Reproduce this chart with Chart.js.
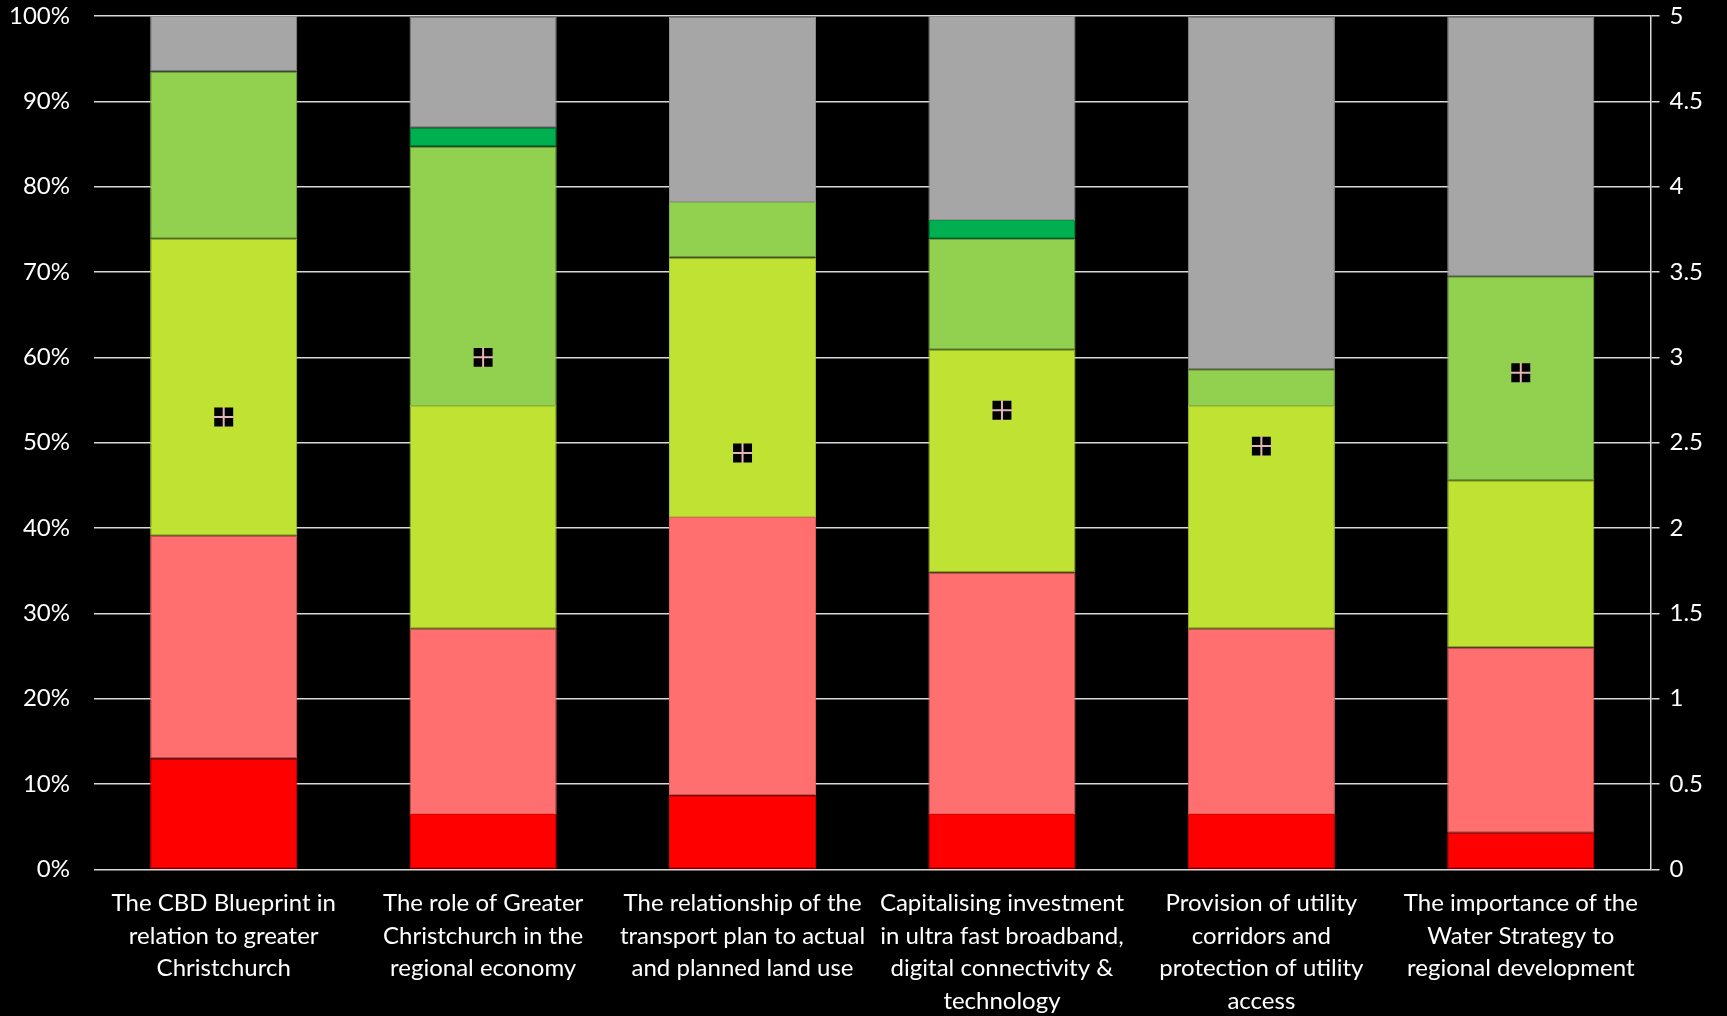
<!DOCTYPE html>
<html>
<head>
<meta charset="utf-8">
<script src="https://cdn.jsdelivr.net/npm/chart.js@4.4.1/dist/chart.umd.min.js"></script>
<style>
  html, body { margin: 0; padding: 0; background: #000; overflow: hidden; }
  #wrap { width: 1727px; height: 1016px; }
</style>
</head>
<body>
<div id="wrap"><canvas id="chartCanvas"></canvas></div>
<script>
// --- data (share of respondents, %) ---
const topics = [
  ["The CBD Blueprint in", "relation to greater", "Christchurch"],
  ["The role of Greater", "Christchurch in the", "regional economy"],
  ["The relationship of the", "transport plan to actual", "and planned land use"],
  ["Capitalising investment", "in ultra fast broadband,", "digital connectivity &", "technology"],
  ["Provision of utility", "corridors and", "protection of utility", "access"],
  ["The importance of the", "Water Strategy to", "regional development"]
];

const score1 = [13.0, 6.5, 8.7, 6.5, 6.5, 4.3];
const score2 = [26.1, 21.7, 32.6, 28.3, 21.7, 21.7];
const score3 = [34.8, 26.1, 30.4, 26.1, 26.1, 19.6];
const score4 = [19.6, 30.4, 6.5, 13.0, 4.3, 23.9];
const score5 = [0, 2.2, 0, 2.2, 0, 0];
const noAnswer = [6.5, 13.0, 21.7, 23.9, 41.3, 30.4];

// mean score (right axis, 0-5)
const meanScore = [2.65, 3.0, 2.44, 2.69, 2.48, 2.91];

const leftTicks = [0, 10, 20, 30, 40, 50, 60, 70, 80, 90, 100];
const rightTicks = [0, 0.5, 1, 1.5, 2, 2.5, 3, 3.5, 4, 4.5, 5];

// --- styling ---
const FONT = "Lato, 'Open Sans', sans-serif";
const GRID = "#d9d9d9";

function barSet(label, data, fill, edge) {
  return {
    type: "bar",
    label,
    data,
    backgroundColor: fill,
    borderColor: edge,
    borderWidth: 1,
    borderSkipped: false,
    yAxisID: "y",
    stack: "s",
    categoryPercentage: 1.0,
    barPercentage: 0.567,
    order: 2
  };
}

const datasets = [
  barSet("1", score1, "#ff0000", "#e00000"),
  barSet("2", score2, "#ff6f6f", "#e06262"),
  barSet("3", score3, "#c0e232", "#a8c62c"),
  barSet("4", score4, "#92d050", "#80b646"),
  barSet("5", score5, "#00b050", "#009a46"),
  barSet("No answer", noAnswer, "#a6a6a6", "#929292"),
  {
    type: "line",
    label: "Mean",
    data: meanScore,
    yAxisID: "y1",
    showLine: false,
    pointStyle: "rect",
    pointRadius: 13.4,
    pointBackgroundColor: "#000",
    pointBorderWidth: 0,
    order: 1
  },
  {
    type: "line",
    label: "Mean cross",
    data: meanScore,
    yAxisID: "y1",
    showLine: false,
    pointStyle: "cross",
    pointRadius: 10,
    pointBorderColor: "#e3b6b6",
    pointBorderWidth: 2,
    order: 0
  }
];

// tick padding would otherwise push the plot top down
function trimPad(scale) {
  scale.paddingTop = 16;
  scale.paddingBottom = 0;
}

new Chart(document.getElementById("chartCanvas"), {
  data: { labels: topics, datasets },
  options: {
    responsive: true,
    maintainAspectRatio: false,
    animation: false,
    layout: { autoPadding: false, padding: { top: 0, left: -15, right: 14, bottom: -11 } },
    plugins: {
      legend: { display: false },
      tooltip: { enabled: false }
    },
    scales: {
      x: {
        stacked: true,
        grid: { display: false },
        border: { display: false },
        ticks: {
          color: "#fff",
          font: { family: FONT, size: 24, lineHeight: 1.35 },
          maxRotation: 0,
          autoSkip: false,
          padding: 10
        }
      },
      y: {
        stacked: true,
        position: "left",
        min: 0,
        max: 100,
        afterBuildTicks: axis => { axis.ticks = leftTicks.map(v => ({ value: v })); },
        afterFit: trimPad,
        grid: { color: GRID, lineWidth: 1.5, drawTicks: false },
        border: { display: false },
        ticks: {
          color: "#fff",
          font: { family: FONT, size: 24 },
          padding: 24,
          callback: v => v + "%"
        }
      },
      y1: {
        position: "right",
        min: 0,
        max: 5,
        afterBuildTicks: axis => { axis.ticks = rightTicks.map(v => ({ value: v })); },
        afterFit: trimPad,
        grid: { drawOnChartArea: false, color: GRID, lineWidth: 1.5, tickLength: 9 },
        border: { display: true, color: GRID, width: 1.5 },
        ticks: {
          color: "#fff",
          font: { family: FONT, size: 24 },
          padding: 10,
          callback: v => String(v)
        }
      }
    }
  }
});
</script>
</body>
</html>
